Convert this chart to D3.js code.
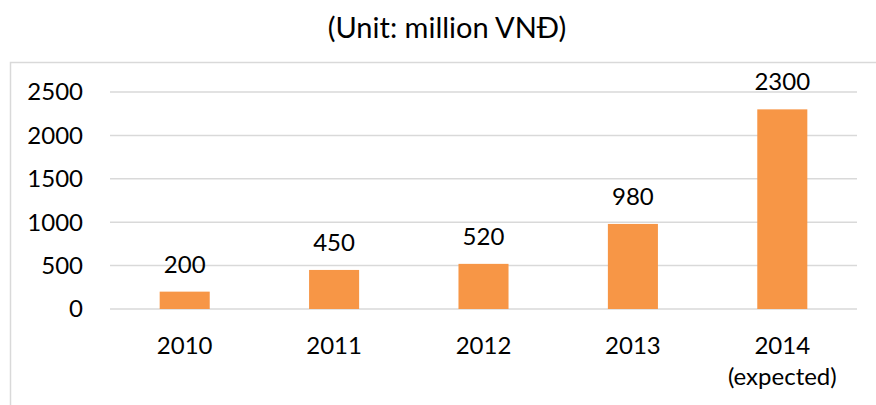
<!DOCTYPE html>
<html>
<head>
<meta charset="utf-8">
<script src="https://cdn.jsdelivr.net/npm/d3@7"></script>
<style>
  body { margin: 0; background: #fff; }
  text { font-family: Lato, "Open Sans", sans-serif; fill: #000; }
</style>
</head>
<body>
<script>
var years = ["2010", "2011", "2012", "2013", "2014"];
var subLabels = ["", "", "", "", "(expected)"];
var values = [200, 450, 520, 980, 2300];
var yTicks = [0, 500, 1000, 1500, 2000, 2500];
var title = "(Unit: million VNĐ)";

var width = 876, height = 405;
var svg = d3.select("body").append("svg")
    .attr("width", width)
    .attr("height", height);

// chart frame
svg.append("rect")
    .attr("x", 10.5)
    .attr("y", 62.5)
    .attr("width", 880)
    .attr("height", 400)
    .attr("fill", "none")
    .attr("stroke", "#d9d9d9")
    .attr("stroke-width", 1.5);

svg.append("text")
    .attr("x", 447)
    .attr("y", 38)
    .attr("text-anchor", "middle")
    .style("font-size", "29px")
    .text(title);

var x = d3.scaleBand().domain(years).range([110, 857]).paddingInner(0.665).paddingOuter(0.3325);
var y = d3.scaleLinear().domain([0, 2500]).range([309, 92]);

// gridlines
svg.append("g")
    .selectAll("line")
    .data(yTicks)
    .join("line")
    .attr("x1", 110)
    .attr("x2", 857)
    .attr("y1", (d) => y(d))
    .attr("y2", (d) => y(d))
    .attr("stroke", "#d9d9d9")
    .attr("stroke-width", 1.5);

// y tick labels
svg.append("g")
    .selectAll("text")
    .data(yTicks)
    .join("text")
    .attr("x", 83)
    .attr("y", (d) => y(d))
    .attr("dy", "0.35em")
    .attr("text-anchor", "end")
    .style("font-size", "24px")
    .text((d) => d);

// bars
svg.append("g")
    .selectAll("rect")
    .data(values)
    .join("rect")
    .attr("x", (d, i) => x(years[i]))
    .attr("y", (d) => y(d))
    .attr("width", x.bandwidth())
    .attr("height", (d) => y(0) - y(d))
    .attr("fill", "#f79646");

// value labels
svg.append("g")
    .selectAll("text")
    .data(values)
    .join("text")
    .attr("x", (d, i) => x(years[i]) + x.bandwidth() / 2)
    .attr("y", (d) => y(d) - 19)
    .attr("text-anchor", "middle")
    .style("font-size", "24px")
    .text((d) => d);

// category labels
var cat = svg.append("g")
    .selectAll("text")
    .data(years)
    .join("text")
    .attr("x", (d) => x(d) + x.bandwidth() / 2)
    .attr("y", 354)
    .attr("text-anchor", "middle")
    .style("font-size", "24px");
cat.append("tspan").text((d) => d);
cat.append("tspan")
    .attr("x", (d) => x(d) + x.bandwidth() / 2)
    .attr("dy", 31)
    .text((d, i) => subLabels[i]);
</script>
</body>
</html>
